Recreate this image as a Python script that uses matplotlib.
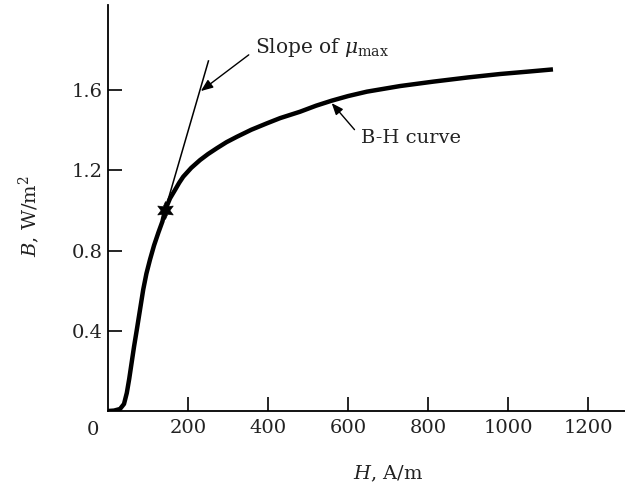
import numpy as np
import matplotlib
matplotlib.use("Agg")
import matplotlib.pyplot as plt

# B-H magnetisation curve
H = [0, 15, 30, 40, 47, 53, 59, 65, 72, 80, 88, 96, 105, 115, 126, 136, 142.5,
	155, 167.5, 178, 188, 208, 230, 250, 272, 296, 322, 358, 397, 430, 480,
	520, 559, 600, 647, 730, 813, 900, 980, 1050, 1112]
B = [0, 0.002, 0.01, 0.035, 0.09, 0.16, 0.24, 0.32, 0.405, 0.505, 0.605, 0.685,
	0.755, 0.825, 0.89, 0.945, 1.0, 1.06, 1.102, 1.138, 1.168, 1.212, 1.251,
	1.281, 1.31, 1.34, 1.367, 1.402, 1.434, 1.46, 1.492, 1.522, 1.547, 1.57,
	1.592, 1.62, 1.642, 1.663, 1.68, 1.692, 1.703]

# tangent line of maximum permeability and the point where it touches
tan_H = [142.5, 251]
tan_B = [1.0, 1.745]
star_H, star_B = 142.5, 1.0

xticks = [200, 400, 600, 800, 1000, 1200]
yticks = [0.4, 0.8, 1.2, 1.6]

plt.rcParams['font.family'] = ['DejaVu Serif']
plt.rcParams['mathtext.fontset'] = 'dejavuserif'

fig = plt.figure(figsize=(6.25, 4.87), dpi=100)
ax = fig.add_axes([108 / 625, 76 / 487, 517 / 625, 406 / 487])

ax.plot(H, B, color='black', lw=3.2, solid_capstyle='butt', solid_joinstyle='round')
ax.plot(tan_H, tan_B, color='black', lw=1.1)
ax.plot([star_H], [star_B], marker=(6, 1, 0), ms=13, color='black', mew=0.4)

ax.set_xlim(0, 1292)
ax.set_ylim(0, 2.024)
for s in ['top', 'right']:
	ax.spines[s].set_visible(False)
for s in ['left', 'bottom']:
	ax.spines[s].set_linewidth(1.3)

txt = '#222222'
ax.set_xticks(xticks)
ax.set_yticks(yticks)
ax.set_xticklabels([str(t) for t in xticks])
ax.set_yticklabels(['%.1f' % t for t in yticks])
ax.tick_params(direction='in', length=10, width=1.2, labelsize=14, labelcolor=txt)
ax.tick_params(axis='x', pad=6)
ax.tick_params(axis='y', pad=4)
ax.annotate('0', xy=(0, 0), xytext=(-11, -7), textcoords='offset points',
	ha='center', va='top', fontsize=14, color=txt)

ax.set_xlabel('$H$, A/m', fontsize=14, color=txt)
ax.xaxis.set_label_coords(0.5416, -0.13)
ax.set_ylabel('$B$, W/m$^2$', fontsize=14, color=txt)
ax.yaxis.set_label_coords(-0.128, 0.48)

ax.annotate(r'Slope of $\mu_{\mathrm{max}}$', xy=(232, 1.595), xytext=(367, 1.81),
	fontsize=14.5, ha='left', va='center', color=txt,
	arrowprops=dict(arrowstyle='-|>,head_length=0.5,head_width=0.2', color='black', lw=1,
		relpos=(0, 0.4), shrinkA=3, shrinkB=0))
ax.annotate('B-H curve', xy=(559, 1.535), xytext=(632, 1.361),
	fontsize=14, ha='left', va='center', color=txt,
	arrowprops=dict(arrowstyle='-|>,head_length=0.5,head_width=0.2', color='black', lw=1,
		relpos=(0, 0.55), shrinkA=4, shrinkB=0))

fig.savefig('out.png', dpi=100)
